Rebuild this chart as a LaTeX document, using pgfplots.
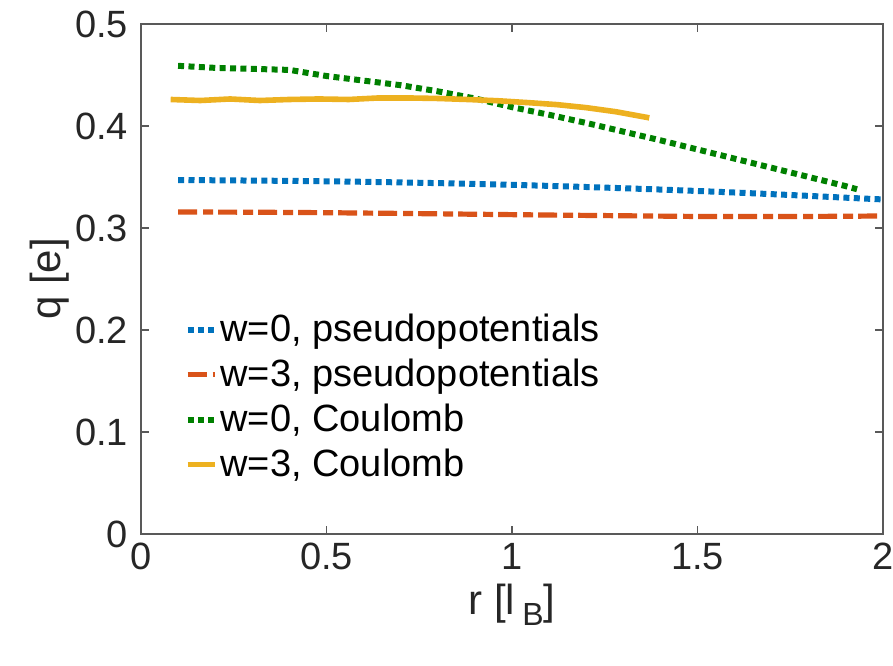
\documentclass[border=0pt]{standalone}
\usepackage{fontspec}
\setmainfont{Liberation Sans}
\usepackage{pgfplots}
\pgfplotsset{compat=1.18}

\definecolor{mblue}{rgb}{0,0.447,0.741}
\definecolor{mred}{rgb}{0.85,0.325,0.098}
\definecolor{mgreen}{rgb}{0,0.5,0}
\definecolor{myellow}{rgb}{0.929,0.694,0.125}
\definecolor{axgray}{rgb}{0.15,0.15,0.15}

\begin{document}
\begin{tikzpicture}
  \begin{axis}[
    scale only axis,
    width=371pt, height=255pt,
    xmin=0, xmax=2, ymin=0, ymax=0.5,
    xtick={0,0.5,1,1.5,2},
    ytick={0,0.1,0.2,0.3,0.4,0.5},
    xticklabels={0,0.5,1,1.5,2},
    yticklabels={0,0.1,0.2,0.3,0.4,0.5},
    tick align=inside,
    major tick length=4pt,
    axis line style={gray!70!black, line width=0.6pt},
    tick style={gray!70!black, line width=0.6pt},
    ticklabel style={font=\fontsize{19}{19}\selectfont, text=axgray},
    yticklabel style={xshift=-3pt},
    xticklabel style={yshift=-1pt},
    /pgf/number format/assume math mode=true,
    xlabel={r [l\,\raisebox{-0.5ex}{\fontsize{16}{16}\selectfont B}]},
    ylabel={q [e]},
    label style={font=\fontsize{21}{21}\selectfont, text=axgray},
    xlabel style={yshift=0pt},
    ylabel style={yshift=-4pt},
    legend style={draw=none, fill=none, at={(0.05,0.445)}, anchor=north west,
      font=\fontsize{19}{19}\selectfont, row sep=4.2pt,
      nodes={inner sep=1.5pt}},
    legend cell align=left,
    legend image code/.code={\draw[#1] (0pt,0pt) -- (13.5pt,0pt);},
  ]
    % w=0, pseudopotentials
    \addplot[mblue, line width=3pt, dash pattern=on 3pt off 2.2pt] coordinates {
      (0.1,0.347) (0.2,0.3468) (0.3,0.3465) (0.4,0.3462) (0.5,0.3458)
      (0.6,0.3453) (0.7,0.3447) (0.8,0.344) (0.9,0.3432) (1.0,0.3423)
      (1.1,0.3413) (1.2,0.3402) (1.3,0.339) (1.4,0.3377) (1.5,0.3363)
      (1.6,0.3348) (1.7,0.3332) (1.8,0.3315) (1.9,0.3297) (2.0,0.328)
    };
    \addlegendentry{w=0, pseudopotentials}
    % w=3, pseudopotentials
    \addplot[mred, line width=2.6pt, dash pattern=on 9.5pt off 3pt on 5pt off 2.5pt] coordinates {
      (0.1,0.3157) (0.3,0.3155) (0.5,0.315) (0.7,0.3143) (0.9,0.3135)
      (1.1,0.3127) (1.3,0.312) (1.5,0.3113) (1.7,0.3112) (1.9,0.3115)
      (2.0,0.3118)
    };
    \addlegendentry{w=3, pseudopotentials}
    % w=0, Coulomb
    \addplot[mgreen, line width=3pt, dash pattern=on 3pt off 2.2pt] coordinates {
      (0.1,0.459) (0.2,0.457) (0.3,0.456) (0.4,0.455) (0.5,0.449)
      (0.6,0.4445) (0.7,0.440) (0.8,0.434) (0.9,0.427) (1.0,0.4185)
      (1.1,0.411) (1.2,0.403) (1.3,0.3945) (1.4,0.386) (1.5,0.377)
      (1.6,0.368) (1.7,0.359) (1.8,0.350) (1.9,0.341) (1.93,0.338)
    };
    \addlegendentry{w=0, Coulomb}
    % w=3, Coulomb
    \addplot[myellow, line width=2.8pt] coordinates {
      (0.08,0.426) (0.16,0.425) (0.24,0.4265) (0.32,0.425) (0.40,0.426)
      (0.48,0.4265) (0.56,0.426) (0.64,0.4275) (0.72,0.4275) (0.80,0.427)
      (0.88,0.426) (0.96,0.4248) (1.04,0.423) (1.12,0.421) (1.20,0.418)
      (1.28,0.414) (1.37,0.408)
    };
    \addlegendentry{w=3, Coulomb}
  \end{axis}
  \pgfresetboundingbox
  \path ([xshift=-70.5pt,yshift=-65.5pt]current axis.south west)
    rectangle ([xshift=5pt,yshift=12pt]current axis.north east);
\end{tikzpicture}
\end{document}
